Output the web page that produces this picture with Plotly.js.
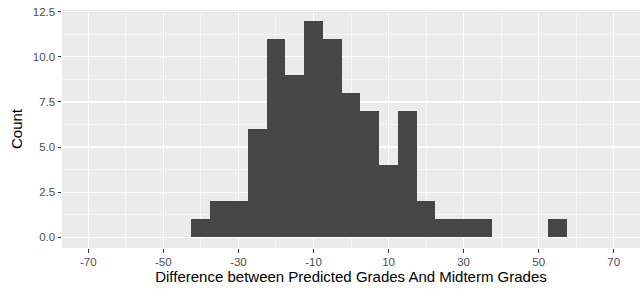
<!DOCTYPE html>
<html>
<head>
<meta charset="utf-8">
<script src="https://cdn.plot.ly/plotly-3.0.1.min.js"></script>
<style>
  html, body { margin: 0; padding: 0; background: #ffffff; }
  #chart { width: 644px; height: 289px; }
</style>
</head>
<body>
<div id="chart"></div>
<script>
// Histogram bins (width 5), centers and counts
const binCenters = [-40, -35, -30, -25, -20, -15, -10, -5, 0, 5, 10, 15, 20, 25, 30, 35, 40, 45, 50, 55];
const counts     = [1, 2, 2, 6, 11, 9, 12, 11, 8, 7, 4, 7, 2, 1, 1, 1, 0, 0, 0, 1];
const binWidth = 5;

const xTickVals = [-70, -50, -30, -10, 10, 30, 50, 70];
const xTickText = ["-70", "-50", "-30", "-10", "10", "30", "50", "70"];
const yTickVals = [0, 2.5, 5, 7.5, 10, 12.5];
const yTickText = ["0.0", "2.5", "5.0", "7.5", "10.0", "12.5"];

const xTitle = "Difference between Predicted Grades And Midterm Grades";
const yTitle = "Count";

const trace = {
  type: "bar",
  x: binCenters,
  y: counts,
  width: binCenters.map(() => binWidth),
  marker: { color: "#464646", line: { width: 0 } },
  hoverinfo: "x+y"
};

const font = "Liberation Sans, Arial, Helvetica, sans-serif";

const layout = {
  width: 644,
  height: 289,
  margin: { l: 62, r: 4, t: 10, b: 41 },
  paper_bgcolor: "#ffffff",
  plot_bgcolor: "#EBEBEB",
  bargap: 0,
  showlegend: false,
  font: { family: font },
  xaxis: {
    range: [-77, 77],
    tickmode: "array",
    tickvals: xTickVals,
    ticktext: xTickText,
    ticks: "outside",
    ticklen: 3.5,
    tickwidth: 1,
    tickcolor: "#333333",
    tickfont: { family: font, size: 11.5, color: "#4D4D4D" },
    showgrid: true,
    gridcolor: "#FFFFFF",
    gridwidth: 1.1,
    minor: { dtick: 20, tick0: -60, showgrid: true, gridcolor: "#FFFFFF", gridwidth: 0.55, ticks: "" },
    zeroline: false,
    showline: false,
    title: { text: xTitle, font: { family: font, size: 15, color: "#000000" }, standoff: 4 }
  },
  yaxis: {
    range: [-0.6, 12.6],
    tickmode: "array",
    tickvals: yTickVals,
    ticktext: yTickText,
    ticks: "outside",
    ticklen: 3.5,
    tickwidth: 1,
    tickcolor: "#333333",
    tickfont: { family: font, size: 11.5, color: "#4D4D4D" },
    showgrid: true,
    gridcolor: "#FFFFFF",
    gridwidth: 1.1,
    minor: { dtick: 2.5, tick0: 1.25, showgrid: true, gridcolor: "#FFFFFF", gridwidth: 0.55, ticks: "" },
    zeroline: false,
    showline: false,
    title: { text: yTitle, font: { family: font, size: 15, color: "#000000" }, standoff: 6 }
  }
};

Plotly.newPlot("chart", [trace], layout, { displayModeBar: false, staticPlot: true });
</script>
</body>
</html>
